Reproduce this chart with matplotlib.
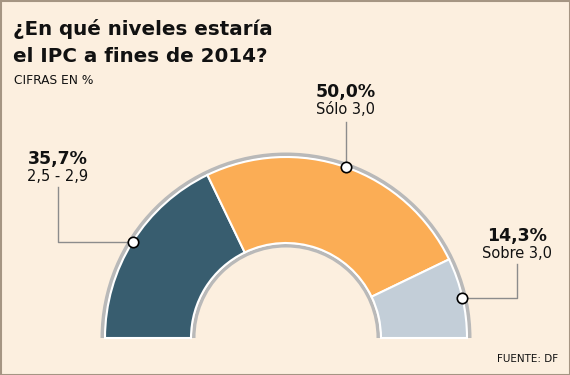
import matplotlib.pyplot as plt
import numpy as np
from matplotlib.patches import Wedge, Rectangle

# data
shares = [35.7, 50.0, 14.3]
pct_labels = ["35,7%", "50,0%", "14,3%"]
ranges = ["2,5 - 2,9", "Sólo 3,0", "Sobre 3,0"]
colors = ["#385d6f", "#fbad55", "#c3ced8"]

bg = "#fcefdf"
ring = "#b9b9b9"
lead = "#8c8c8c"

fig = plt.figure(figsize=(5.7, 3.75), dpi=100)
fig.patch.set_facecolor(bg)
ax = fig.add_axes([0, 0, 1, 1])
ax.set_xlim(0, 570)
ax.set_ylim(0, 375)
ax.axis("off")

# frame
ax.add_patch(Rectangle((0.5, 0.5), 569, 374, fill=False, ec="#a59583", lw=1.5))

cx, cy = 286, 37
r_out, r_in = 181, 95

# gray rings
ax.add_patch(Wedge((cx, cy), 185.5, 0, 180, width=4, color=ring, lw=0))
ax.add_patch(Wedge((cx, cy), 94, 0, 180, width=3.5, color=ring, lw=0))

# segments, start at 180 deg going clockwise
ang = 180.0
mids = []
for s, c in zip(shares, colors):
    sweep = s / 100 * 180
    ax.add_patch(Wedge((cx, cy), r_out, ang - sweep, ang, width=r_out - r_in,
                       fc=c, ec="white", lw=1.5))
    mids.append(np.radians(ang - sweep / 2))
    ang -= sweep

pts = [(cx + r_out * np.cos(m), cy + r_out * np.sin(m)) for m in mids]

# leader lines + labels
lab_pos = [(58, 211), (350, 278), (517, 134)]
for i, ((mx, my), (lx, ly)) in enumerate(zip(pts, lab_pos)):
    if i == 1:
        ax.plot([mx, mx], [my, ly - 25], color=lead, lw=1, zorder=3)
        lx = mx
    else:
        ax.plot([lx, lx, mx], [ly - 23, my, my], color=lead, lw=1, zorder=3)
    ax.text(lx, ly, pct_labels[i], ha="center", va="baseline",
            fontsize=12.5, fontweight="bold", color="#111111")
    ax.text(lx, ly - 17, ranges[i], ha="center", va="baseline",
            fontsize=10.5, color="#111111")

for mx, my in pts:
    ax.plot(mx, my, "o", ms=7.5, mfc="white", mec="black", mew=1.2, zorder=5)

# titles
ax.text(13, 340, "¿En qué niveles estaría", fontsize=14.3, fontweight="bold",
        color="#111111", va="baseline")
ax.text(13, 313, "el IPC a fines de 2014?", fontsize=14.3, fontweight="bold",
        color="#111111", va="baseline")
ax.text(14, 291, "CIFRAS EN %", fontsize=8.8, color="#111111", va="baseline")
ax.text(558, 13, "FUENTE: DF", fontsize=7.5, color="#111111", ha="right",
        va="baseline")

fig.savefig("out.png", dpi=100, facecolor=bg)
